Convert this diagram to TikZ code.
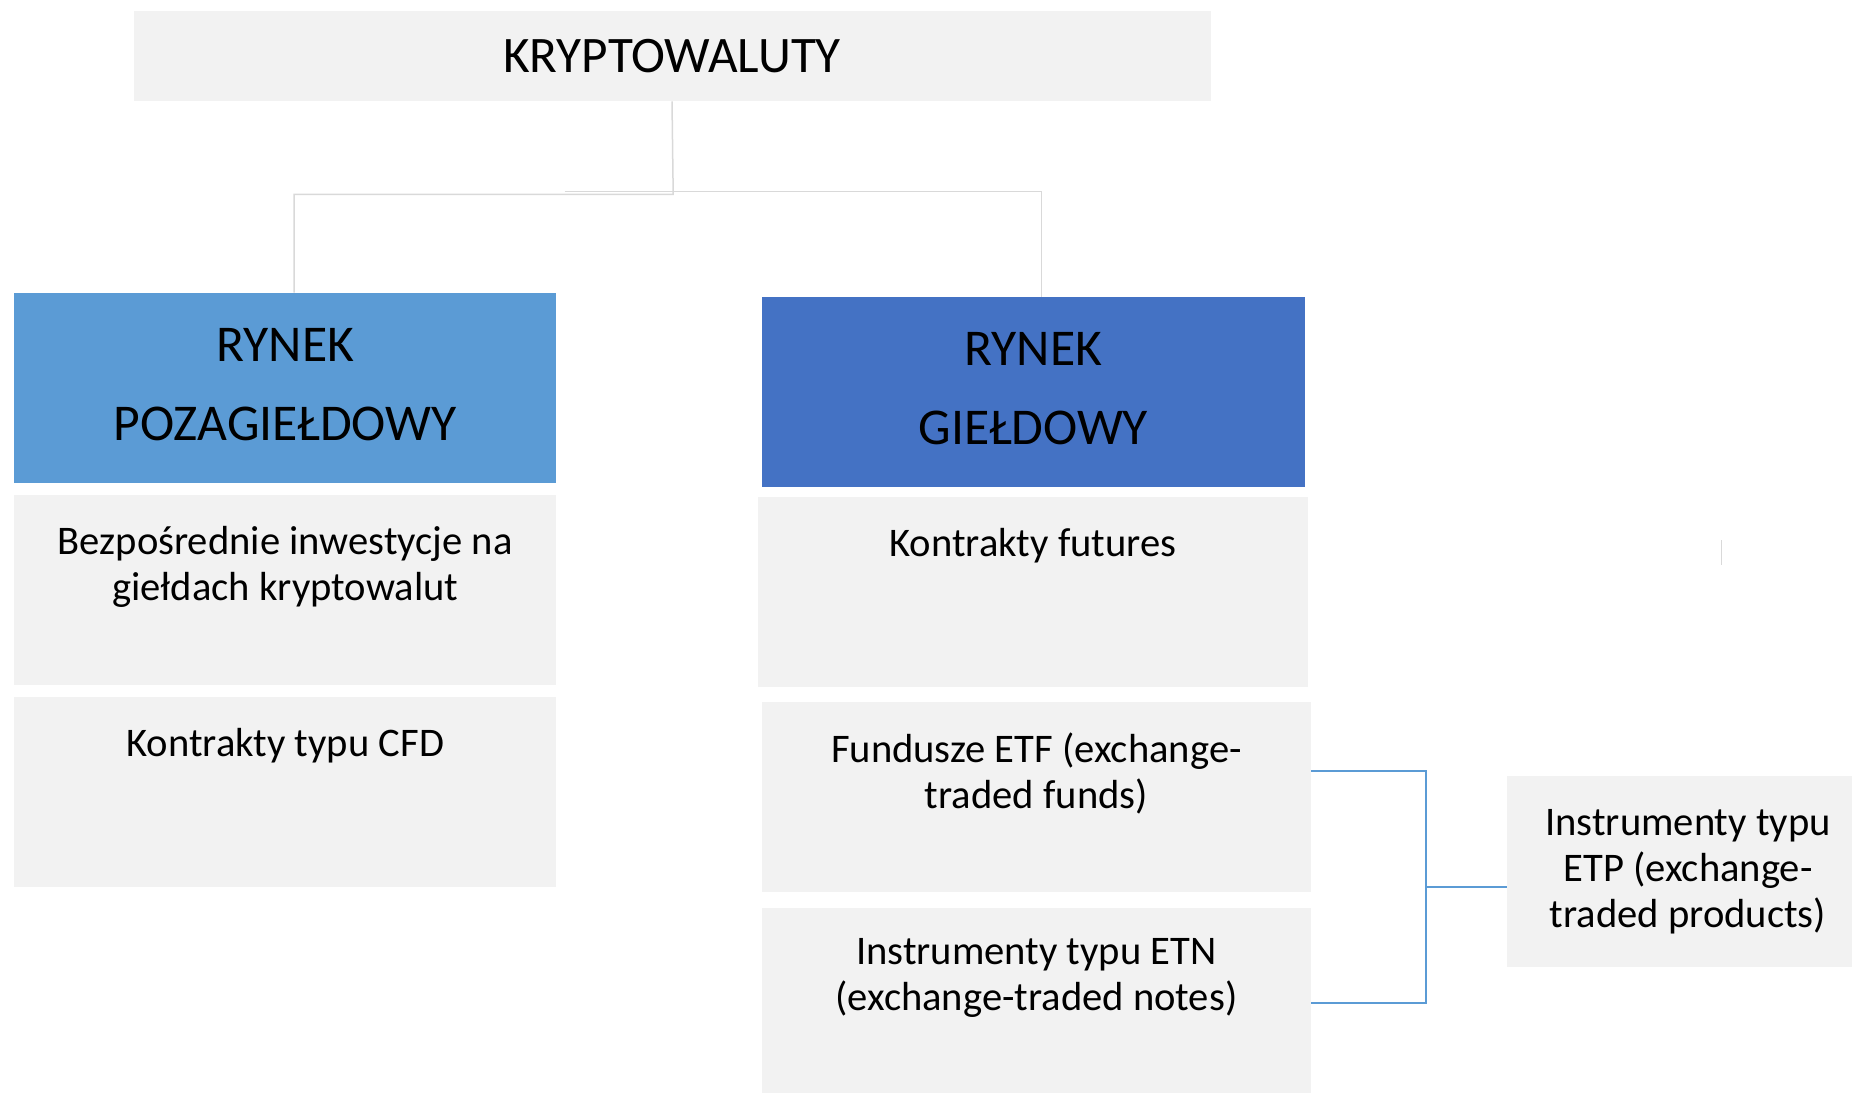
\documentclass[tikz,border=0pt]{standalone}
\usepackage{fontspec}
\setmainfont{Carlito}
\usetikzlibrary{positioning}
\definecolor{boxgray}{HTML}{F2F2F2}
\definecolor{lightblue}{HTML}{5B9BD5}
\definecolor{darkblue}{HTML}{4472C4}
\definecolor{linegray}{HTML}{D9D9D9}

\begin{document}
\begin{tikzpicture}[x=0.5pt,y=-0.5pt]
		\tikzset{
			box/.style ={
				rectangle, %矩形节点
				minimum width =271pt, %最小宽度
				minimum height =95pt, %最小高度
				inner sep=0pt, %文字和边框的距离
				fill=boxgray %填充颜色
			},
			txt/.style ={
				align=center, %居中
				inner sep=0pt,
				font=\fontsize{20.3}{23}\selectfont
			},
			head/.style ={
				align=center,
				text depth=3.5pt,
				font=\fontsize{25.8}{39.5}\selectfont
			},
			greyline/.style ={draw=linegray, line width=0.75pt},
			blueline/.style ={draw=lightblue, line width=1pt}
		}
		\useasboundingbox (0,0) rectangle (1852,1092);
		% gorny poziom
		\node[box, minimum width=538.5pt, minimum height=45pt, font=\fontsize{25.6}{30}\selectfont] (krypto) at (672,56) {KRYPTOWALUTY};
		\node[box, head, fill=lightblue] (pozagield) at (285.2,388) {RYNEK\\POZAGIEŁDOWY};
		\node[box, head, fill=darkblue, minimum width=271.6pt] (gield) at (1033.4,392.2) {RYNEK\\GIEŁDOWY};
		% lewa kolumna
		\node[box] (bezp) at (285.2,590.3) {};
		\node[box] (cfd) at (285.2,792.3) {};
		\node[txt, below=15.5pt of bezp.north] (bezpt) {Bezpośrednie inwestycje na\\giełdach kryptowalut};
		\node[txt, below=15.5pt of cfd.north] (cfdt) {Kontrakty typu CFD};
		% prawa kolumna
		\node[box, minimum width=274.6pt] (futures) at (1032.9,592.3) {};
		\node[box, minimum width=274.6pt] (etf) at (1036.4,797.3) {};
		\node[box, minimum width=274.6pt] (etn) at (1036.4,1002.7) {};
		\node[txt, below=15.5pt of futures.north] (futurest) {Kontrakty futures};
		\node[txt, below=15.5pt of etf.north] (etft) {Fundusze ETF (exchange-\\traded funds)};
		\node[txt, below=15.5pt of etn.north] (etnt) {Instrumenty typu ETN\\(exchange-traded notes)};
		\node[box, txt, minimum width=181pt, minimum height=95.5pt, fill=boxgray] (etp) at (1688,871.8) {Instrumenty typu\\ETP (exchange-\\traded products)};
		% polaczenia
		\coordinate (jl) at (673.2,194.3);
		\coordinate (jr) at (564.5,191.7);
		\coordinate (jm) at (1425.5,886.7);
		\draw[greyline] (krypto.south) -- (jl) -| ([xshift=4.4pt]pozagield.north);
		\draw[greyline] (jr) -| ([xshift=4.15pt]gield.north);
		\draw[blueline] ([yshift=13.3pt]etf.east) -| (jm);
		\draw[blueline] (etn.east) -| (jm);
		\draw[blueline] (jm) -- (etp.west |- jm);
		\draw[greyline] (1721.7,540) -- (1721.7,565);
	\end{tikzpicture}
\end{document}
